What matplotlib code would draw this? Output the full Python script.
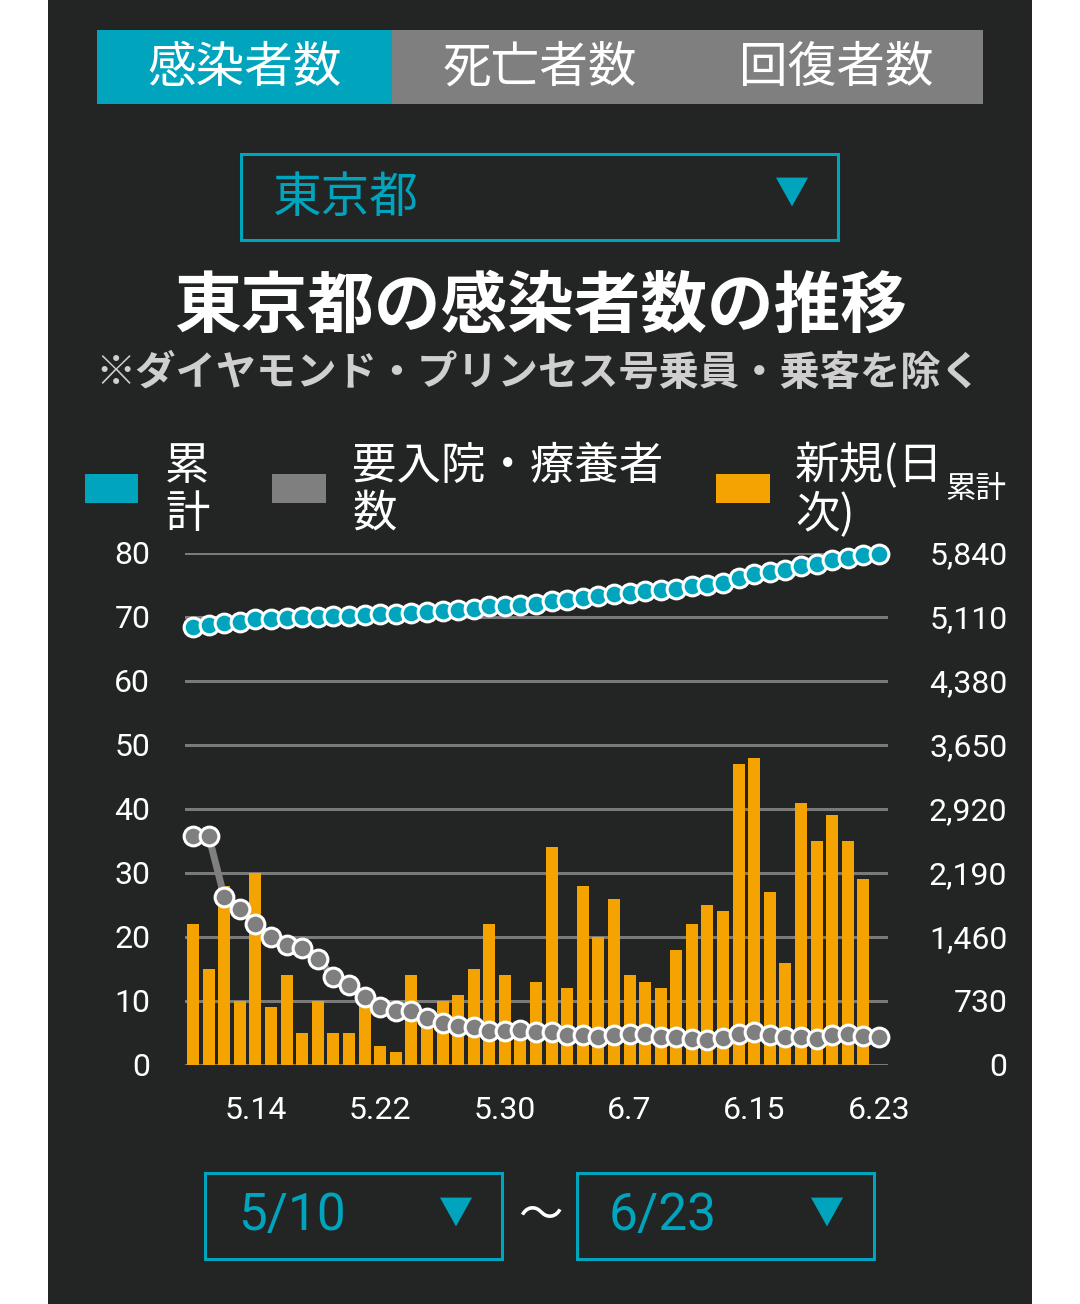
"""plot.py — 東京都の感染者数の推移（ダッシュボード画面の再現）。"""
import matplotlib
matplotlib.use("Agg")
import matplotlib.pyplot as plt
import numpy as np
from matplotlib.patches import Rectangle, Polygon

plt.rcParams['font.family'] = ['Noto Sans CJK JP', 'DejaVu Sans']

# ── データ ─────────────────────────────────────────
dates = ["5.10", "5.11", "5.12", "5.13", "5.14", "5.15", "5.16", "5.17", "5.18", "5.19",
         "5.20", "5.21", "5.22", "5.23", "5.24", "5.25", "5.26", "5.27", "5.28", "5.29",
         "5.30", "5.31", "6.1", "6.2", "6.3", "6.4", "6.5", "6.6", "6.7", "6.8",
         "6.9", "6.10", "6.11", "6.12", "6.13", "6.14", "6.15", "6.16", "6.17", "6.18",
         "6.19", "6.20", "6.21", "6.22", "6.23"]
new_daily = [22, 15, 28, 10, 30, 9, 14, 5, 10, 5,
             5, 11, 3, 2, 14, 8, 10, 11, 15, 22,
             14, 5, 13, 34, 12, 28, 20, 26, 14, 13,
             12, 18, 22, 25, 24, 47, 48, 27, 16, 41,
             35, 39, 35, 29, 0]
cumulative = [5000, 5017, 5043, 5055, 5082, 5090, 5100, 5106, 5113, 5120,
              5126, 5132, 5140, 5143, 5152, 5162, 5175, 5187, 5205, 5230,
              5237, 5244, 5258, 5293, 5302, 5330, 5350, 5377, 5389, 5403,
              5414, 5434, 5460, 5480, 5500, 5559, 5604, 5625, 5645, 5688,
              5720, 5756, 5787, 5813, 5826]
hospitalized = [2613, 2613, 1916, 1774, 1606, 1460, 1369, 1329, 1212, 1004,
                913, 781, 657, 613, 613, 540, 475, 445, 431, 387,
                387, 394, 372, 380, 343, 343, 321, 343, 358, 358,
                321, 314, 292, 281, 307, 350, 372, 343, 321, 321,
                299, 343, 358, 329, 321]
left_ticks = [0, 10, 20, 30, 40, 50, 60, 70, 80]
right_ticks = [0, 730, 1460, 2190, 2920, 3650, 4380, 5110, 5840]
tabs = ["感染者数", "死亡者数", "回復者数"]
legend_labels = ["累\n計", "要入院・療養者\n数", "新規(日\n次)"]

# ── 色 ───────────────────────────────────────────────────────
BG = "#222524"
TEAL = "#00A5BD"
GRAY = "#7f7f7f"
ORANGE = "#F4A300"
GRID = "#7a7a7a"

W, H = 1080, 1304
fig = plt.figure(figsize=(W / 100, H / 100), dpi=100, facecolor="white")


def fx(x):
    return x / W


def fy(y):
    return 1 - y / H


def rect(x0, y0, x1, y1, **kw):
    fig.add_artist(Rectangle((fx(x0), fy(y1)), fx(x1) - fx(x0), fy(y0) - fy(y1),
                             transform=fig.transFigure, **kw))


def tri(xc, yc, size=16):
    pts = [(fx(xc - size), fy(yc - size * 0.9)), (fx(xc + size), fy(yc - size * 0.9)),
           (fx(xc), fy(yc + size * 0.9))]
    fig.add_artist(Polygon(pts, closed=True, transform=fig.transFigure, color=TEAL, lw=0))


# 背景パネル（軸より後ろに置く）
rect(48, 0, 1032, H, facecolor=BG, edgecolor="none", zorder=-10)

# タブ
rect(97, 30, 392, 104, facecolor=TEAL, edgecolor="none")
rect(392, 30, 983, 104, facecolor=GRAY, edgecolor="none")
for label, xc in zip(tabs, [245, 540, 836]):
    fig.text(fx(xc), fy(68), label, color="white", fontsize=35, ha="center", va="center")

# 都道府県プルダウン
rect(241, 154, 838, 240, facecolor="none", edgecolor=TEAL, lw=2.2)
fig.text(fx(273), fy(198), "東京都", color=TEAL, fontsize=35, ha="left", va="center")
tri(792, 192, 16)

# タイトル
fig.text(fx(540), fy(307), "東京都の感染者数の推移", color="white", fontsize=48,
         fontweight="bold", ha="center", va="center")
fig.text(fx(538), fy(373), "※ダイヤモンド・プリンセス号乗員・乗客を除く", color="#cfcfcf",
         fontsize=29, fontweight="bold", ha="center", va="center")

# 凡例
legend_items = [(85, 138, TEAL, 165), (272, 326, GRAY, 352), (716, 770, ORANGE, 795)]
for (x0, x1, color, tx), label in zip(legend_items, legend_labels):
    rect(x0, 474, x1, 503, facecolor=color, edgecolor="none")
    fig.text(fx(tx), fy(490), label, color="white", fontsize=32, ha="left", va="center",
             linespacing=1.05)
fig.text(fx(1006), fy(490), "累計", color="white", fontsize=22, ha="right", va="center")

# ── グラフ本体 ───────────────────────────────────────────────
ax = fig.add_axes([fx(185), fy(1065), fx(888) - fx(185), fy(553) - fy(1065)])
ax.set_facecolor("none")
x = np.arange(len(dates))

ax.bar(x, new_daily, width=0.77, color=ORANGE, zorder=2)
ax.set_ylim(0, 80)
ax.set_xlim(-0.52, len(dates) - 0.42)
ax.set_yticks(left_ticks)
ax.yaxis.grid(True, color=GRID, lw=2.2, zorder=0)
ax.set_axisbelow(True)
for spine in ax.spines.values():
    spine.set_visible(False)
ax.tick_params(axis="y", length=0, pad=25, labelsize=23, labelcolor="white")
ax.set_xticks(x[4::8])
ax.set_xticklabels(dates[4::8])
ax.tick_params(axis="x", length=0, pad=22, labelsize=23, labelcolor="white")
for lab in ax.get_xticklabels() + ax.get_yticklabels():
    lab.set_fontfamily(["Roboto", "DejaVu Sans"])

ax2 = ax.twinx()
ax2.set_ylim(0, 5840)
ax2.set_yticks(right_ticks)
ax2.set_yticklabels([f"{v:,}" for v in right_ticks])
for spine in ax2.spines.values():
    spine.set_visible(False)
ax2.tick_params(axis="y", length=0, pad=86, labelsize=23, labelcolor="white")
for lab in ax2.get_yticklabels():
    lab.set_fontfamily(["Roboto", "DejaVu Sans"])
    lab.set_horizontalalignment("right")

ax2.plot(x, hospitalized, color=GRAY, lw=5, marker="o", markersize=13.5,
         markerfacecolor=GRAY, markeredgecolor="white", markeredgewidth=2.2, zorder=3,
         clip_on=False)
ax2.plot(x, cumulative, color=TEAL, lw=3, marker="o", markersize=13.5,
         markerfacecolor=TEAL, markeredgecolor="white", markeredgewidth=2.2, zorder=4,
         clip_on=False)

# ── 期間選択 ─────────────────────────────────────────────────
rect(205, 1173, 502, 1259, facecolor="none", edgecolor=TEAL, lw=2.2)
rect(577, 1173, 874, 1259, facecolor="none", edgecolor=TEAL, lw=2.2)
fig.text(fx(238), fy(1216), "5/10", color=TEAL, fontsize=37, ha="left", va="center",
         family=["Roboto", "DejaVu Sans"])
fig.text(fx(609), fy(1216), "6/23", color=TEAL, fontsize=37, ha="left", va="center",
         family=["Roboto", "DejaVu Sans"])
tri(456, 1212, 16)
tri(827, 1212, 16)
fig.text(fx(540), fy(1216), "〜", color="white", fontsize=32, ha="center", va="center")

fig.savefig("out.png", dpi=100, facecolor=fig.get_facecolor())
